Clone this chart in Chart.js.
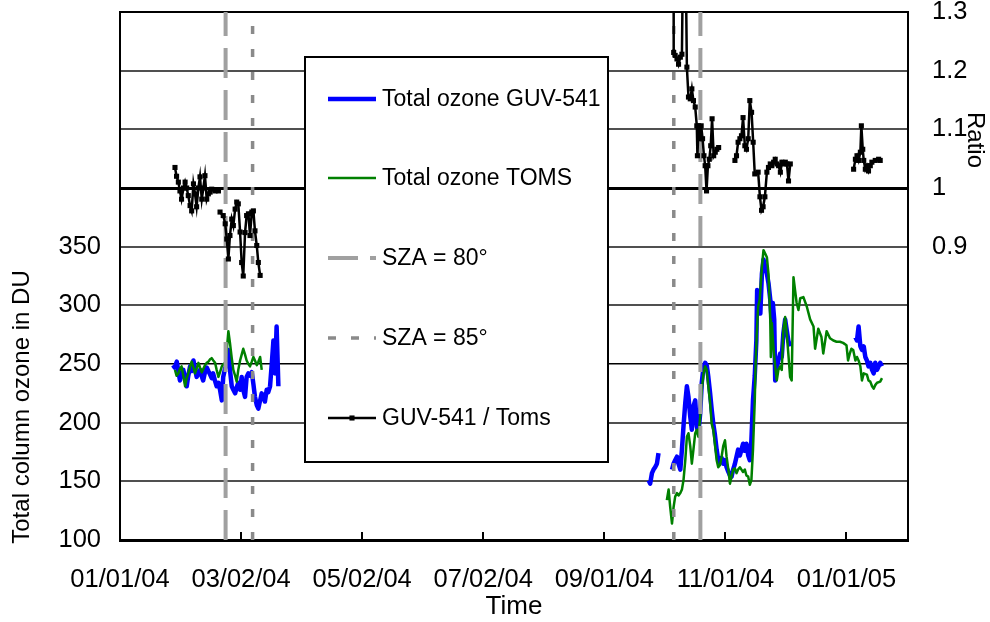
<!DOCTYPE html>
<html>
<head>
<meta charset="utf-8">
<script src="https://cdn.jsdelivr.net/npm/chart.js@4.4.1/dist/chart.umd.min.js"></script>
<style>
  html, body { margin: 0; padding: 0; background: #fff; }
  #wrap { width: 990px; height: 622px; }
</style>
</head>
<body>
<div id="wrap"><canvas id="c" width="990" height="622"></canvas></div>
<script>
// ---------- DATA (days since 01/01/2004) ----------
const xTickDays   = [0, 61, 122, 183, 244, 305, 366];
const xTickLabels = ['01/01/04', '03/02/04', '05/02/04', '07/02/04', '09/01/04', '11/01/04', '01/01/05'];
const ozoneTicks      = [100, 150, 200, 250, 300, 350, 400, 450, 500, 550];
const ozoneTickLabels = [100, 150, 200, 250, 300, 350];
const ratioTicks      = [0.4, 0.5, 0.6, 0.7, 0.8, 0.9, 1.0, 1.1, 1.2, 1.3];
const ratioTickLabels = [0.9, 1.0, 1.1, 1.2, 1.3];

// Total ozone GUV-541 (blue)
const guvDays = [
  26.7, 27.6, 28.6, 29.4, 30.2, 31.0, 31.9, 32.8, 33.6, 34.4, 35.3, 36.1, 37.0, 37.8, 38.6, 39.5, 40.3, 41.1, 41.9, 42.8,
  43.7, 44.5, 45.4, 46.2, 46.9, 47.8, 48.7, 49.6, 50.4, 51.3, 52.0, 52.9, 53.8, 54.6, 55.4, 56.3, 57.1, 58.0, 58.8, 59.6,
  60.5, 61.3, 62.1, 63.0, 63.8, 64.7, 65.5, 66.4, 67.2, 68.0, 68.9, 69.7, 70.6, 71.4, 72.2, 73.0, 73.9, 74.7, 75.6, 76.5,
  77.3, 78.1, 78.9, 79.8, 80.5,
  266.3, 267.1, 268.0, 268.8, 269.6, 270.5, 271.3, 272.0,
  278.1, 278.9, 279.7, 280.6, 281.4, 282.3, 283.1, 283.9, 284.8, 285.6, 286.4, 287.3, 288.1, 288.9, 289.8, 290.6, 291.4,
  292.3, 293.1, 294.0, 294.8, 295.6, 296.4, 297.3, 298.1, 298.9, 299.7, 300.6, 301.4, 302.3, 303.1, 303.9, 304.8, 305.6,
  306.5, 307.3, 308.1, 308.9, 309.8, 310.6, 311.4, 312.3, 313.1, 313.9, 314.8, 315.6, 316.5, 317.3, 318.1, 318.9, 319.8,
  320.6, 321.0, 321.5, 322.6, 323.4, 324.2, 325.1, 325.9, 326.7, 327.6, 328.4, 328.9, 329.6, 330.1, 330.9, 331.7, 332.6,
  333.4, 334.2, 335.1, 335.9, 336.7, 337.6, 338.2,
  370.5, 371.3, 372.1, 373.0, 373.8, 374.7, 375.5, 376.3, 377.1, 378.0, 378.9, 379.7, 380.5, 381.4, 382.2, 383.0, 383.9
];
const guvOzone = [
  249, 247, 252, 244, 236, 241, 245, 238, 231, 240, 248, 244, 253, 246, 239, 242, 245, 240, 236, 243,
  247, 244, 241, 238, 242, 236, 231, 234, 228, 219, 239, 246, 251, 262, 245, 231, 228, 225, 230, 234,
  228, 239, 228, 222, 239, 242, 240, 243, 233, 222, 215, 212, 219, 225, 222, 218, 228, 226, 231, 251,
  270, 242, 282, 231, null,
  151, 148, 157, 160, 162, 165, 174, null,
  160, 165, 168, 171, 165, 160, 177, 197, 217, 231, 222, 205, 194, 214, 219, 197, 191,
  208, 234, 248, 251, 249, 239, 225, 211, 199, 190, 177, 168, 166, 170, 165, 168, 162,
  158, 155, 154, 160, 165, 171, 177, 172, 177, 182, 176, 182, 172, 168, 185, 219, 240,
  270, 313, 310, 293, 327, 339, 333, 327, 319, 305, 285, 302, 288, 236, 248, 253, 259,
  256, 276, 288, 279, 270, 265, null,
  273, 270, 282, 265, 262, 265, 256, 253, 248, 251, 245, 242, 251, 245, 248, 251, 248
];

// Total ozone TOMS (green)
const tomsDays = [
  27.7, 28.5, 29.4, 30.2, 31.0, 31.9, 32.8, 33.6, 34.4, 35.3, 36.1, 37.0, 37.8, 38.6, 39.5, 40.3, 41.2, 42.0, 42.8, 43.7,
  44.5, 45.4, 46.2, 47.0, 47.9, 48.7, 49.6, 50.4, 51.3, 52.1, 53.0, 53.8, 54.6, 55.4, 56.3, 57.1, 58.0, 58.8, 59.6, 60.5,
  61.3, 62.1, 63.0, 63.8, 64.7, 65.5, 66.4, 67.2, 68.0, 68.9, 69.7, 70.6, 71.4, 72.0,
  275.5, 276.4, 277.2, 278.1, 278.9, 279.7, 280.6, 281.4, 282.3, 283.1, 283.9, 284.8, 285.6, 286.4, 287.3, 288.1, 288.9,
  289.8, 290.6, 291.4, 292.3, 293.1, 294.0, 294.8, 295.6, 296.4, 297.3, 298.1, 298.9, 299.7, 300.6, 301.4, 302.3, 303.1,
  303.9, 304.8, 305.6, 306.5, 307.3, 308.1, 308.9, 309.8, 310.6, 311.4, 312.3, 313.1, 313.9, 314.8, 315.6, 316.5, 317.3,
  318.1, 318.9, 319.8, 320.2, 320.8, 321.5, 322.3, 323.4, 324.2, 325.1, 325.9, 326.7, 327.6, 327.9, 328.4, 329.3, 330.1,
  330.9, 331.7, 332.6, 333.4, 334.2, 335.1, 335.9, 336.7, 337.6, 338.4, 339.3, 340.1, 340.9, 341.8, 342.7, 344.3, 346.0,
  347.7, 349.4, 350.2, 351.8, 353.4, 354.3, 356.0, 357.7, 359.4, 361.0, 362.7, 364.3, 366.0, 366.8, 367.7, 368.5, 369.4,
  370.5, 371.3, 372.1, 373.0, 373.8, 374.7, 376.3, 377.1, 378.0, 378.9, 379.7, 380.5, 381.4, 383.0, 383.9
];
const tomsOzone = [
  245, 240, 242, 246, 248, 240, 231, 238, 242, 248, 252, 247, 242, 246, 251, 247, 243, 246, 249, 251,
  252, 254, 255, 253, 251, 245, 239, 243, 248, 250, 251, 262, 278, 268, 255, 245, 240, 235, 245, 253,
  258, 263, 258, 253, 250, 248, 252, 256, 253, 249, 252, 256, 245, null,
  134, 143, 128, 114, 128, 137, 140, 138, 140, 143, 151, 168, 188, 191, 180, 165, 177,
  191, 194, 188, 205, 228, 242, 248, 245, 231, 217, 199, 194, 182, 168, 162, 164, 171,
  180, 185, 171, 160, 148, 154, 160, 161, 157, 160, 162, 160, 158, 160, 155, 154, 147,
  151, 177, 219, 248, 275, 299, 305, 333, 347, 344, 341, 327, 288, 256, 285, 262, 248,
  236, 245, 248, 245, 279, 290, 276, 259, 239, 236, 324, 313, 302, 296, 306, 307, 299,
  288, 282, 263, 280, 273, 259, 278, 272, 270, 269, 269, 268, 266, 253, 259, 263, 262,
  253, 256, 253, 248, 236, 242, 241, 236, 235, 231, 229, 232, 234, 235, 238
];

// GUV-541 / TOMS ratio (black)
const ratioDays = [
  27.7, 28.5, 29.4, 30.2, 31.0, 32.0, 32.8, 33.6, 34.4, 35.3, 36.1, 37.0, 37.8, 38.6, 39.5, 40.3, 41.2, 42.0, 42.8, 43.7,
  44.5, 45.4, 46.2, 47.9, 49.6, 50.0,
  50.4, 52.0, 53.0, 53.8, 54.6, 55.4, 56.3, 57.1, 58.0, 58.8, 59.6, 60.5, 61.3, 62.1, 63.0, 63.8, 64.7, 65.5, 66.4, 67.2,
  68.0, 68.9, 69.7, 70.6, 71.0,
  278.9, 278.95, 279.7, 280.6, 281.4, 282.3, 283.1, 284.3, 285.6, 286.4, 287.3, 288.1, 288.9, 289.8, 290.6, 290.9, 291.5,
  292.3, 292.8, 293.5, 294.2, 294.8, 295.5, 296.2, 296.9, 297.6, 298.3, 299.1, 299.9, 300.7, 301.6, 302.0,
  309.8, 310.6, 311.4, 312.3, 313.1, 313.9, 314.8, 315.6, 316.5, 317.3, 318.2, 319.0, 319.8, 321.5, 322.4, 323.2, 324.0,
  324.9, 325.9, 326.7, 327.6, 328.4, 329.3, 330.1, 331.0, 331.8, 332.7, 333.5, 334.3, 335.2, 336.0, 336.8, 337.7, 338.0,
  369.6, 370.5, 371.3, 372.1, 373.0, 373.5, 374.2, 374.7, 375.5, 376.3, 377.1, 378.0, 378.8, 380.5, 382.2, 383.0
];
const ratioValues = [
  1.035, 1.020, 1.010, 0.995, 0.981, 1.000, 1.010, 1.000, 0.987, 0.970, 0.961, 1.007, 0.990, 0.968, 1.000, 1.019, 0.981, 1.000, 1.021, 0.981,
  0.990, 0.993, 0.998, 0.995, 0.995, null,
  0.959, 0.953, 0.939, 0.913, 0.879, 0.919, 0.947, 0.936, 0.964, 0.976, 0.973, 0.925, 0.873, 0.850, 0.924, 0.953, 0.956, 0.919, 0.959, 0.961,
  0.927, 0.902, 0.873, 0.851, null,
  1.450, 1.231, 1.226, 1.220, 1.211, 1.223, 1.228, 1.600, 1.206, 1.155, 1.152, 1.169, 1.149, 1.138, 1.106, 1.055, 1.106,
  1.084, 1.106, 1.084, 1.055, 1.038, 0.995, 1.038, 1.049, 1.072, 1.118, 1.055, 1.061, 1.066, 1.069, null,
  1.047, 1.055, 1.078, 1.084, 1.089, 1.120, 1.072, 1.066, 1.084, 1.149, 1.129, 1.078, 1.024, 1.027, 0.985, 0.962, 0.968,
  0.985, 1.027, 1.035, 1.041, 1.038, 1.044, 1.049, 1.041, 1.038, 1.027, 1.044, 1.041, 1.044, 1.041, 1.012, 1.041, null,
  1.032, 1.049, 1.055, 1.047, 1.061, 1.106, 1.066, 1.047, 1.032, 1.038, 1.029, 1.038, 1.044, 1.047, 1.049, 1.047
];

// Solar zenith angle markers (days)
const sza80Days = [53.2, 292.4];
const sza85Days = [66.8, 279.0];

// ---------- helpers ----------
const FONT = "'Liberation Sans', Arial, Helvetica, sans-serif";
const pairs = (xs, ys) => xs.map((x, i) => ({ x: x, y: ys[i] }));
const vlines = (days) => {
  const out = [];
  days.forEach((d, i) => {
    if (i > 0) out.push({ x: d, y: null });
    out.push({ x: d, y: ozoneTicks[0] });
    out.push({ x: d, y: ozoneTicks[ozoneTicks.length - 1] });
  });
  return out;
};

// ---------- plugins ----------
const decorPlugin = {
  id: 'decor',
  afterDraw(chart) {
    const { ctx, chartArea: a, scales } = chart;
    const xs = scales.x;
    ctx.save();
    // inward tick marks on x axis
    ctx.strokeStyle = '#000';
    ctx.lineWidth = 2;
    xTickDays.forEach(d => {
      const px = Math.round(xs.getPixelForValue(d));
      ctx.beginPath();
      ctx.moveTo(px, a.bottom);
      ctx.lineTo(px, a.bottom - 8);
      ctx.stroke();
    });
    // axis titles (left / right)
    ctx.fillStyle = '#000';
    ctx.font = '24px ' + FONT;
    ctx.textAlign = 'center';
    ctx.textBaseline = 'middle';
    ctx.save();
    ctx.translate(22, 407);
    ctx.rotate(-Math.PI / 2);
    ctx.fillText('Total column ozone in DU', 0, 0);
    ctx.restore();
    ctx.save();
    ctx.translate(975, 140);
    ctx.rotate(Math.PI / 2);
    ctx.fillText('Ratio', 0, 0);
    ctx.restore();

    // legend box
    const bx = 305, by = 57, bw = 303, bh = 405;
    ctx.fillStyle = '#fff';
    ctx.fillRect(bx, by, bw, bh);
    ctx.strokeStyle = '#000';
    ctx.lineWidth = 2;
    ctx.strokeRect(bx, by, bw, bh);
    const rows = [99, 178, 258, 338, 418];
    const dsets = chart.data.datasets;
    const legendOrder = ['guv', 'toms', 'sza80', 'sza85', 'ratio'];
    legendOrder.forEach((key, i) => {
      const ds = dsets.find(d => d.key === key);
      const y = rows[i];
      ctx.save();
      ctx.strokeStyle = ds.borderColor;
      ctx.lineWidth = ds.borderWidth;
      ctx.setLineDash(ds.borderDash || []);
      ctx.beginPath();
      ctx.moveTo(328, y);
      ctx.lineTo(376, y);
      ctx.stroke();
      ctx.setLineDash([]);
      if (ds.pointRadius) {
        ctx.fillStyle = ds.pointBackgroundColor;
        const s = ds.pointRadius * Math.SQRT1_2;
        ctx.fillRect(352 - s, y - s, 2 * s, 2 * s);
      }
      ctx.restore();
      ctx.fillStyle = '#000';
      ctx.font = '23px ' + FONT;
      ctx.textAlign = 'left';
      ctx.textBaseline = 'middle';
      ctx.fillText(ds.label, 382, y + 1);
    });
    ctx.restore();
  }
};

// ---------- chart ----------
const ctx = document.getElementById('c').getContext('2d');
new Chart(ctx, {
  type: 'line',
  data: {
    datasets: [
      {
        key: 'ratio', label: 'GUV-541 / Toms', yAxisID: 'y2', order: 0,
        data: pairs(ratioDays, ratioValues),
        borderColor: '#000', borderWidth: 2.5, pointRadius: 3.6, pointStyle: 'rect',
        pointBackgroundColor: '#000', pointBorderColor: '#000', pointBorderWidth: 0,
        tension: 0, spanGaps: false, clip: 0
      },
      {
        key: 'sza85', label: 'SZA = 85°', yAxisID: 'y', order: 1,
        data: vlines(sza85Days),
        borderColor: '#8a8a8a', borderWidth: 3.5, borderDash: [8, 15], borderCapStyle: 'butt',
        pointRadius: 0, spanGaps: false, clip: 0
      },
      {
        key: 'sza80', label: 'SZA = 80°', yAxisID: 'y', order: 2,
        data: vlines(sza80Days),
        borderColor: '#a0a0a0', borderWidth: 4, borderDash: [30, 12], borderCapStyle: 'butt',
        pointRadius: 0, spanGaps: false, clip: 0
      },
      {
        key: 'toms', label: 'Total ozone TOMS', yAxisID: 'y', order: 3,
        data: pairs(tomsDays, tomsOzone),
        borderColor: '#008000', borderWidth: 2.5, pointRadius: 0, tension: 0,
        borderJoinStyle: 'round', spanGaps: false, clip: 0
      },
      {
        key: 'guv', label: 'Total ozone GUV-541', yAxisID: 'y', order: 4,
        data: pairs(guvDays, guvOzone),
        borderColor: '#0000ff', borderWidth: 4.5, pointRadius: 0, tension: 0,
        borderJoinStyle: 'round', spanGaps: false, clip: 0
      }
    ]
  },
  options: {
    responsive: false,
    animation: false,
    events: [],
    layout: { padding: { top: 12, left: 0, right: 0, bottom: 0 } },
    plugins: { legend: { display: false }, tooltip: { enabled: false } },
    scales: {
      x: {
        type: 'linear', position: 'bottom', min: 0, max: 397,
        grid: { display: false },
        border: { display: true, color: '#000', width: 3 },
        afterBuildTicks: s => { s.ticks = xTickDays.map(v => ({ value: v })); },
        ticks: {
          autoSkip: false, maxRotation: 0, minRotation: 0, padding: 17, color: '#000',
          font: { family: FONT, size: 25.5 },
          callback: (v) => { const i = xTickDays.indexOf(v); return i >= 0 ? xTickLabels[i] : ''; }
        },
        title: { display: true, text: 'Time', color: '#000', font: { family: FONT, size: 26 }, padding: { top: 0, bottom: 0 } },
        afterFit: s => { s.height = 82; s.paddingLeft = 0; s.paddingRight = 0; }
      },
      y: {
        type: 'linear', position: 'left', min: 100, max: 550,
        afterBuildTicks: s => { s.ticks = ozoneTicks.map(v => ({ value: v })); },
        grid: {
          drawTicks: false,
          color: c => {
            const v = c.tick && c.tick.value;
            if (v === 400 || v === 550 || v === 250) return '#000';
            return '#505050';
          },
          lineWidth: c => {
            const v = c.tick && c.tick.value;
            if (v === 400) return 3;
            if (v === 550) return 2;
            if (v === 250) return 1.5;
            return 2;
          }
        },
        border: { display: true, color: '#000', width: 2 },
        ticks: {
          autoSkip: false, padding: 19, color: '#000',
          font: { family: FONT, size: 25.5 },
          callback: v => ozoneTickLabels.includes(v) ? String(v) : ''
        },
        afterFit: s => { s.width = 120; s.paddingTop = 0; s.paddingBottom = 0; }
      },
      y2: {
        type: 'linear', position: 'right', min: 0.4, max: 1.3,
        afterBuildTicks: s => { s.ticks = ratioTicks.map(v => ({ value: v })); },
        grid: { display: false, drawOnChartArea: false },
        border: { display: true, color: '#000', width: 2 },
        ticks: {
          autoSkip: false, padding: 16, color: '#000',
          font: { family: FONT, size: 25.5 },
          callback: v => {
            const r = Math.round(v * 10) / 10;
            return ratioTickLabels.some(t => Math.abs(t - r) < 1e-9) ? String(r) : '';
          }
        },
        afterFit: s => { s.width = 82; s.paddingTop = 0; s.paddingBottom = 0; }
      }
    }
  },
  plugins: [decorPlugin]
});
</script>
</body>
</html>
